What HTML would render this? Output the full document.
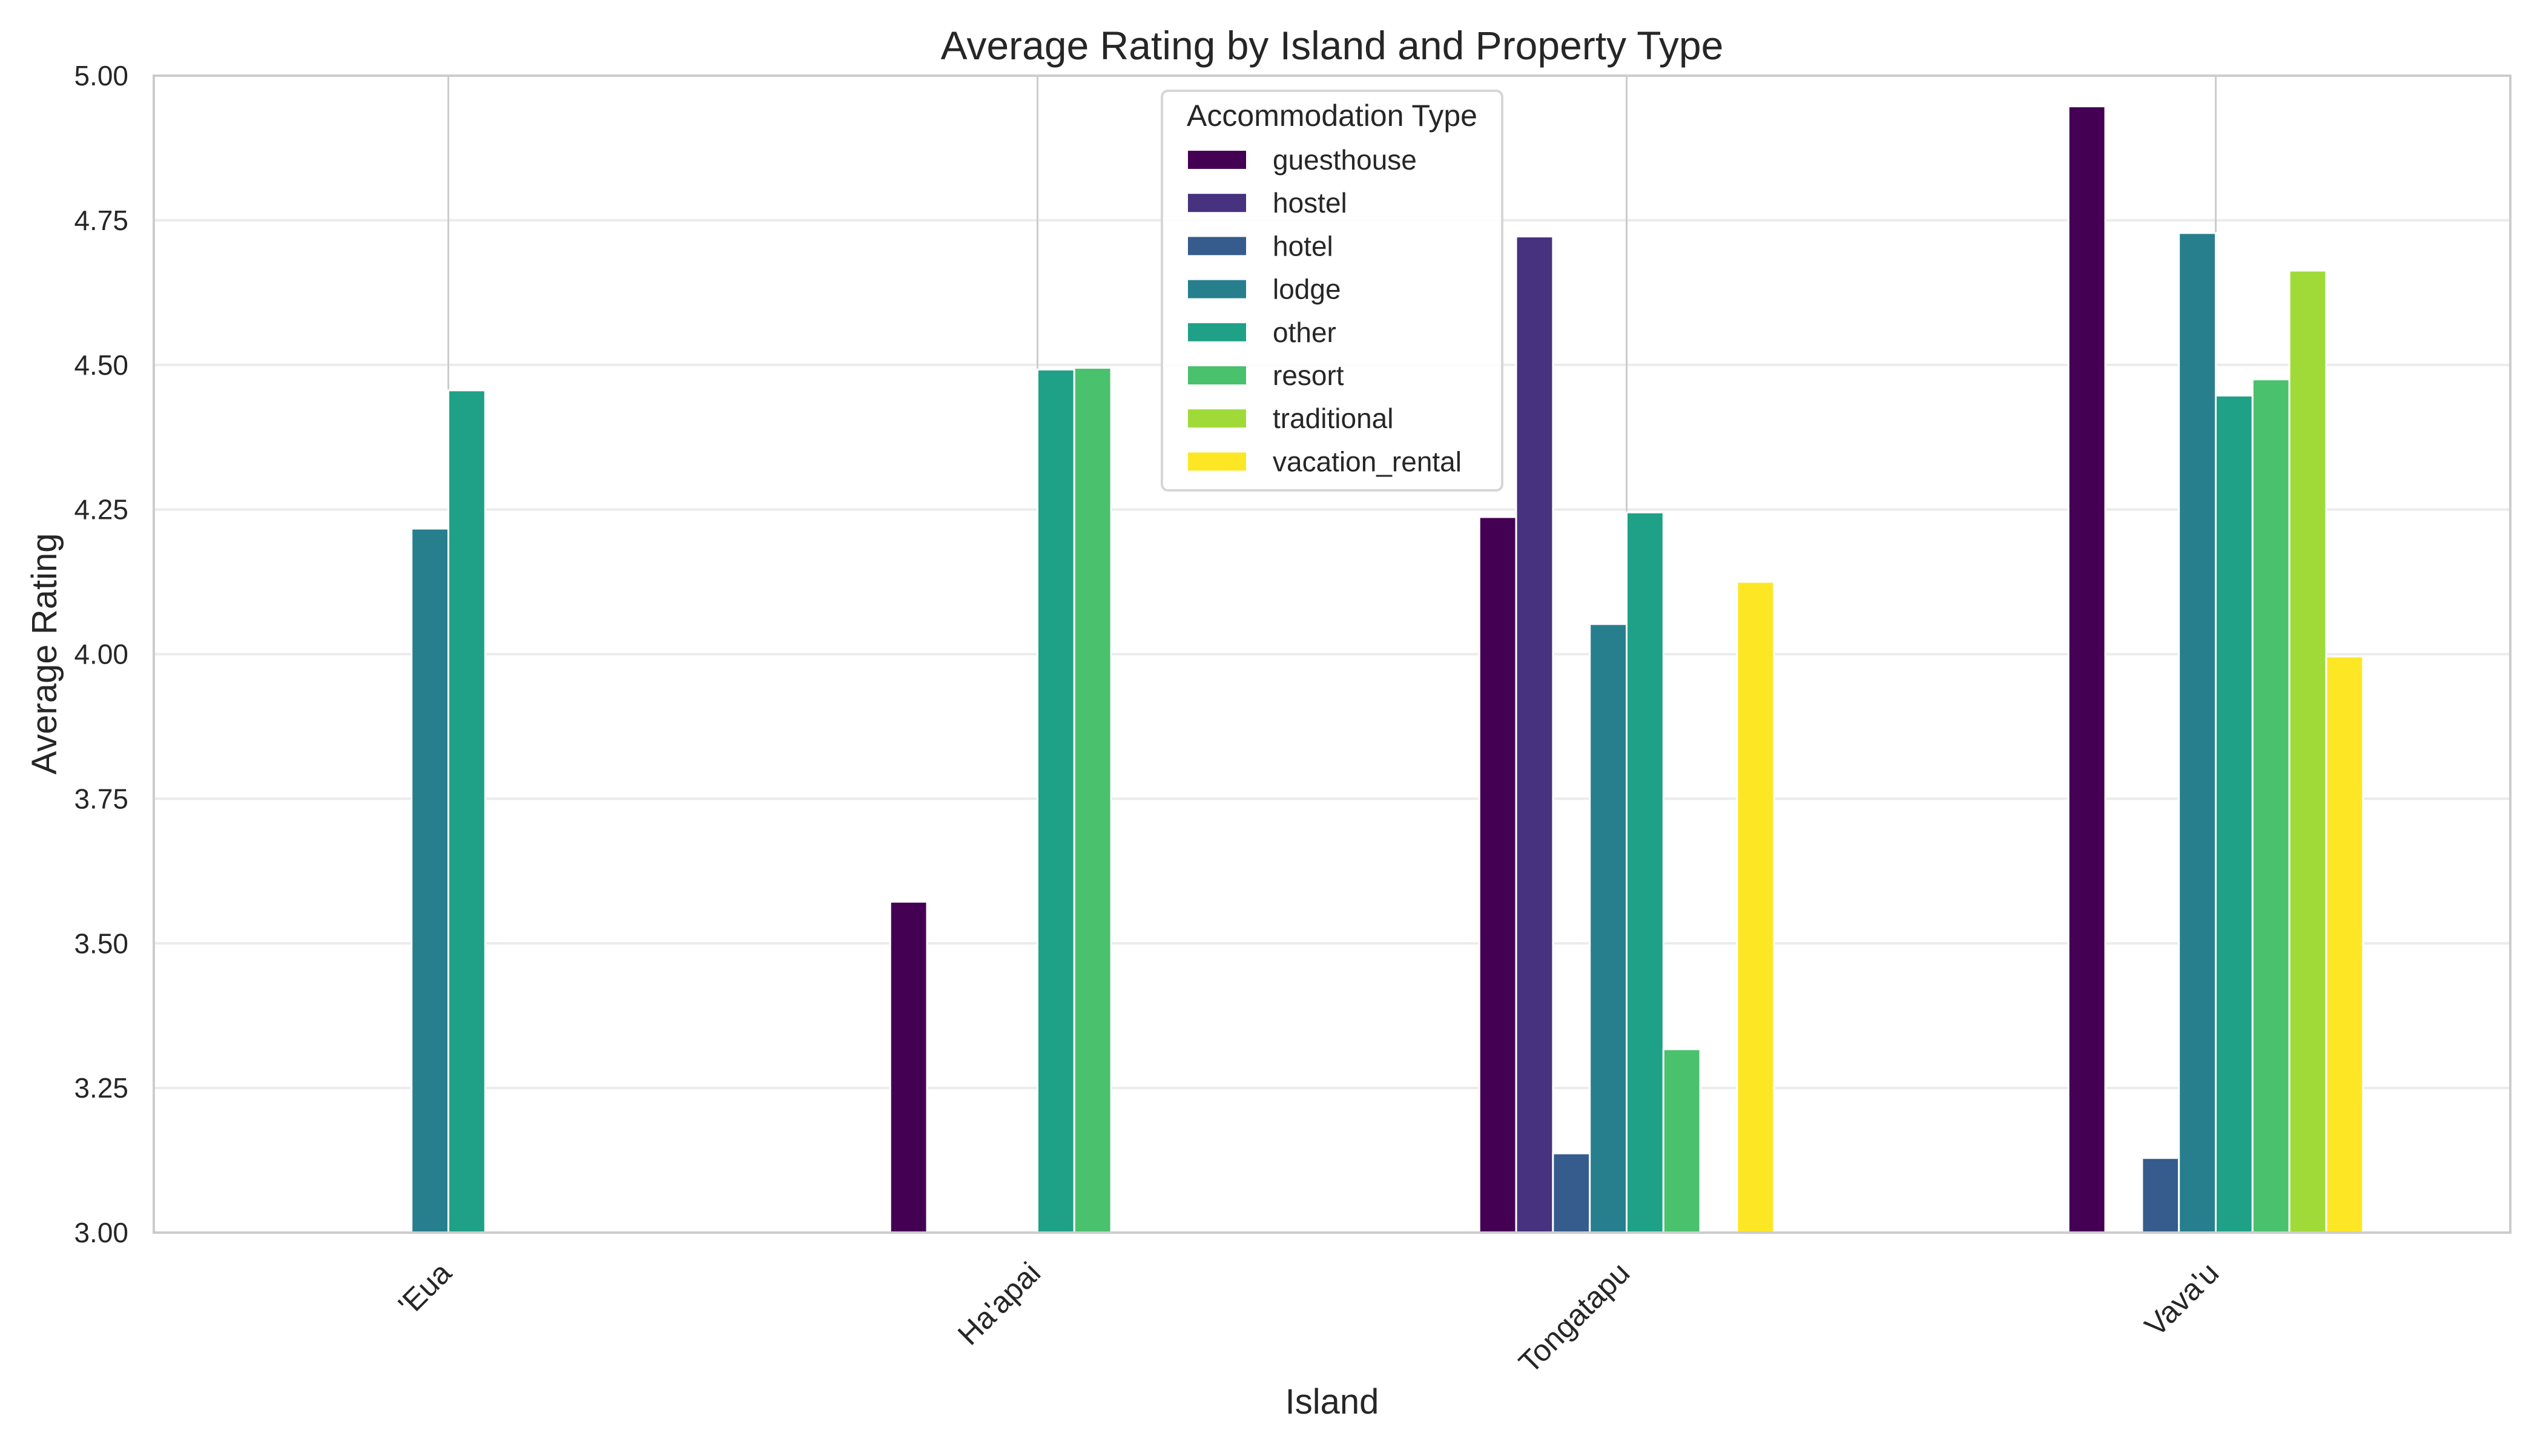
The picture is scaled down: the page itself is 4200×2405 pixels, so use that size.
<!DOCTYPE html>
<html><head><meta charset="utf-8"><style>
html,body{margin:0;padding:0;background:#fff;}
svg text{font-family:"Liberation Sans",Arial,sans-serif;fill:#262626;}
</style></head><body>
<svg id="chart" width="4200" height="2400" xmlns="http://www.w3.org/2000/svg">
<rect x="0" y="0" width="4200" height="2400" fill="#fff"/>
<g id="grid"></g>
<g id="bars"></g>
<g id="axes"></g>
<text x="2200" y="98" font-size="66" text-anchor="middle">Average Rating by Island and Property Type</text>
<text x="2200" y="2335" font-size="58" text-anchor="middle">Island</text>
<text x="0" y="0" font-size="58" text-anchor="middle" transform="translate(93,1080) rotate(-90)">Average Rating</text>
<g id="legend"></g>
</svg>
<script>
const islands = ["'Eua", "Ha'apai", "Tongatapu", "Vava'u"];
const types = ["guesthouse","hostel","hotel","lodge","other","resort","traditional","vacation_rental"];
const colors = ["#440154","#46327e","#365c8d","#277f8e","#1fa187","#4ac16d","#a0da39","#fde725"];
const guesthouse = [null, 3.572, 4.237, 4.947];
const hostel = [null, null, 4.722, null];
const hotel = [null, null, 3.137, 3.129];
const lodge = [4.217, null, 4.052, 4.728];
const other = [4.456, 4.492, 4.245, 4.447];
const resort = [null, 4.495, 3.317, 4.475];
const traditional = [null, null, null, 4.663];
const vacation_rental = [null, null, 4.125, 3.996];
const series = [guesthouse, hostel, hotel, lodge, other, resort, traditional, vacation_rental];
const yTicks = [3.00, 3.25, 3.50, 3.75, 4.00, 4.25, 4.50, 4.75, 5.00];
const yMin = 3, yMax = 5;

const NS = "http://www.w3.org/2000/svg";
const L = 254, R = 4146, T = 125, B = 2036;
const slot = (R - L) / islands.length;
function xScale(i) { return L + slot * (i + 0.5); }
function yScale(v) { return B - (v - yMin) / (yMax - yMin) * (B - T); }
function mk(tag, attrs, parent) {
  const e = document.createElementNS(NS, tag);
  for (const k in attrs) e.setAttribute(k, attrs[k]);
  parent.appendChild(e); return e;
}
const grid = document.getElementById('grid');
yTicks.forEach((t) => {
  const y = yScale(t);
  const g = mk('line', {x1: L, x2: R, y1: y, y2: y, stroke: '#ebebeb', 'stroke-width': 4}, grid);
  
  
  const lab = mk('text', {x: 212, y: y + 16, 'font-size': 46, 'text-anchor': 'end'}, grid);
  lab.textContent = t.toFixed(2);
  
  
});
islands.forEach((isl, i) => {
  const x = xScale(i);
  const g = mk('line', {x1: x, x2: x, y1: T, y2: B, stroke: '#cccccc', 'stroke-width': 3}, grid);
  
  
  const lab = mk('text', {x: 0, y: 0, 'font-size': 50, 'text-anchor': 'end', transform: 'translate(' + (x + 8) + ',2106) rotate(-45)'}, grid);
  lab.textContent = isl;
  
  
});
const bars = document.getElementById('bars');
const bw = slot * 0.5 / types.length;
series.forEach((vals, s) => {
  vals.forEach((v, i) => {
    if (v === null) return;
    const x0 = xScale(i) - slot * 0.25 + s * bw;
    const y = yScale(v);
    const r = mk('rect', {x: x0, y: y, width: bw, height: B - y, fill: colors[s], stroke: '#fff', 'stroke-width': 3}, bars);
    
    
  });
});
const axes = document.getElementById('axes');
const frame = mk('rect', {x: L, y: T, width: R - L, height: B - T, fill: 'none', stroke: '#cccccc', 'stroke-width': 4}, axes);



const lg = document.getElementById('legend');
const box = mk('rect', {x: 1919, y: 150, width: 562, height: 660, rx: 10, fill: 'rgba(255,255,255,0.85)', stroke: '#d6d6d6', 'stroke-width': 4}, lg);


const lt = mk('text', {x: 2200, y: 208, 'font-size': 50, 'text-anchor': 'middle'}, lg);
lt.textContent = 'Accommodation Type';


types.forEach((t, s) => {
  const cy = 264 + s * 71.2;
  const p = mk('rect', {x: 1962, y: cy - 15, width: 96, height: 30, fill: colors[s]}, lg);
  
  
  const tx = mk('text', {x: 2102, y: cy + 16, 'font-size': 46}, lg);
  tx.textContent = t;
  
  
});
</script>
</body></html>
